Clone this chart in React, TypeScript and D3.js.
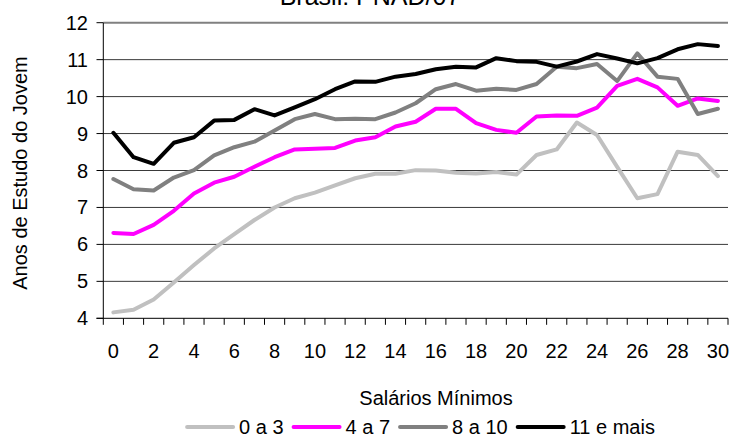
import React, { useEffect, useRef } from 'react'
import * as d3 from 'd3'

const salarios = [0, 1, 2, 3, 4, 5, 6, 7, 8, 9, 10, 11, 12, 13, 14, 15, 16, 17, 18, 19, 20, 21, 22, 23, 24, 25, 26, 27, 28, 29, 30]
const xTickLabels = [0, 2, 4, 6, 8, 10, 12, 14, 16, 18, 20, 22, 24, 26, 28, 30]
const yTicks = [4, 5, 6, 7, 8, 9, 10, 11, 12]

const s0a3 = [4.16, 4.23, 4.51, 4.97, 5.44, 5.89, 6.28, 6.66, 7.0, 7.25, 7.4, 7.6, 7.79, 7.91, 7.91, 8.01, 8.0, 7.94, 7.92, 7.96, 7.89, 8.42, 8.57, 9.3, 8.96, 8.1, 7.25, 7.36, 8.51, 8.42, 7.85]
const s4a7 = [6.31, 6.28, 6.53, 6.91, 7.38, 7.67, 7.83, 8.1, 8.36, 8.57, 8.59, 8.61, 8.81, 8.9, 9.19, 9.32, 9.67, 9.67, 9.28, 9.1, 9.02, 9.46, 9.49, 9.48, 9.7, 10.29, 10.48, 10.25, 9.75, 9.95, 9.88]
const s8a10 = [7.77, 7.49, 7.46, 7.81, 8.01, 8.41, 8.63, 8.78, 9.08, 9.39, 9.53, 9.39, 9.4, 9.39, 9.57, 9.82, 10.2, 10.34, 10.16, 10.21, 10.18, 10.34, 10.81, 10.77, 10.88, 10.42, 11.17, 10.54, 10.48, 9.53, 9.67]
const s11mais = [9.02, 8.36, 8.18, 8.75, 8.9, 9.35, 9.37, 9.66, 9.49, 9.71, 9.93, 10.2, 10.41, 10.4, 10.54, 10.61, 10.74, 10.81, 10.79, 11.04, 10.96, 10.94, 10.81, 10.95, 11.15, 11.03, 10.9, 11.04, 11.28, 11.42, 11.37]

const seriesNames = ['0 a 3', '4 a 7', '8 a 10', '11 e mais']
const seriesValues = [s0a3, s4a7, s8a10, s11mais]
const seriesColors = ['#c0c0c0', '#ff00ff', '#808080', '#000000']

const W = 731
const H = 438
const FONT = '"Liberation Sans", Arial, sans-serif'
const FS = 20

export default function App() {
  const ref = useRef<SVGSVGElement>(null)

  useEffect(() => {
    const svg = d3.select(ref.current)
    svg.selectAll('*').remove()

    const x = d3.scaleBand<number>().domain(salarios).range([103.3, 728])
    const y = d3.scaleLinear().domain([4, 12]).range([318.3, 22.7])
    const cx = (d: number) => (x(d) as number) + x.bandwidth() / 2

    // title (cut at the top in the original)
    svg.append('text')
      .attr('x', 370).attr('y', 5)
      .attr('text-anchor', 'middle')
      .attr('font-size', 25)
      .text('Brasil: PNAD/07')

    // gridlines
    svg.append('g').selectAll('line')
      .data(yTicks.filter(t => t > 4))
      .join('line')
      .attr('x1', 103.3).attr('x2', 728)
      .attr('y1', d => y(d)).attr('y2', d => y(d))
      .attr('stroke', d => (d === 12 ? '#808080' : '#3a3a3a'))
      .attr('stroke-width', d => (d === 12 ? 2 : 1))

    // y axis
    const gy = svg.append('g')
    gy.append('line')
      .attr('x1', 103.3).attr('x2', 103.3)
      .attr('y1', y(12)).attr('y2', y(4))
      .attr('stroke', '#000')
    gy.selectAll('line.tick')
      .data(yTicks)
      .join('line')
      .attr('class', 'tick')
      .attr('x1', 96.5).attr('x2', 103.3)
      .attr('y1', d => y(d)).attr('y2', d => y(d))
      .attr('stroke', '#000')
    gy.selectAll('text')
      .data(yTicks)
      .join('text')
      .attr('x', 88).attr('y', d => y(d))
      .attr('dy', '0.35em')
      .attr('text-anchor', 'end')
      .attr('font-size', FS)
      .text(d => d)

    // x axis
    const gx = svg.append('g')
    gx.append('line')
      .attr('x1', 96.5).attr('x2', 728)
      .attr('y1', y(4)).attr('y2', y(4))
      .attr('stroke', '#000')
    const bounds = salarios.map(d => x(d) as number).concat([x.range()[1]])
    gx.selectAll('line.tick')
      .data(bounds)
      .join('line')
      .attr('class', 'tick')
      .attr('x1', d => d).attr('x2', d => d)
      .attr('y1', y(4)).attr('y2', y(4) + 6.5)
      .attr('stroke', '#000')
    gx.selectAll('text')
      .data(xTickLabels)
      .join('text')
      .attr('x', d => cx(d)).attr('y', 358)
      .attr('text-anchor', 'middle')
      .attr('font-size', FS)
      .text(d => d)

    // axis titles
    svg.append('text')
      .attr('transform', `translate(27,173) rotate(-90)`)
      .attr('text-anchor', 'middle')
      .attr('font-size', FS)
      .text('Anos de Estudo do Jovem')
    svg.append('text')
      .attr('x', 436).attr('y', 405)
      .attr('text-anchor', 'middle')
      .attr('font-size', FS)
      .text('Salários Mínimos')

    // series
    const line = d3.line<number>()
      .x((_, i) => cx(salarios[i]))
      .y(d => y(d))
    svg.append('g').selectAll('path')
      .data(seriesValues)
      .join('path')
      .attr('d', d => line(d))
      .attr('fill', 'none')
      .attr('stroke', (_, i) => seriesColors[i])
      .attr('stroke-width', 4)
      .attr('stroke-linejoin', 'round')
      .attr('stroke-linecap', 'round')

    // legend
    const lg = svg.append('g')
    let lx = 0
    seriesNames.forEach((name, i) => {
      const g = lg.append('g').attr('transform', `translate(${lx},0)`)
      g.append('line')
        .attr('x1', 2).attr('x2', 48)
        .attr('y1', -7).attr('y2', -7)
        .attr('stroke', seriesColors[i])
        .attr('stroke-width', 4)
        .attr('stroke-linecap', 'round')
      const t = g.append('text')
        .attr('x', 54).attr('y', 0)
        .attr('font-size', FS)
        .text(name)
      const tw = (t.node() as SVGTextElement).getComputedTextLength()
      lx += 54 + tw + 8
    })
    const total = lx - 8
    lg.attr('transform', `translate(${420 - total / 2},434)`)
  }, [])

  return (
    <svg
      ref={ref}
      width={W}
      height={H}
      style={{ position: 'absolute', left: 0, top: 0, fontFamily: FONT, background: '#fff' }}
    />
  )
}
